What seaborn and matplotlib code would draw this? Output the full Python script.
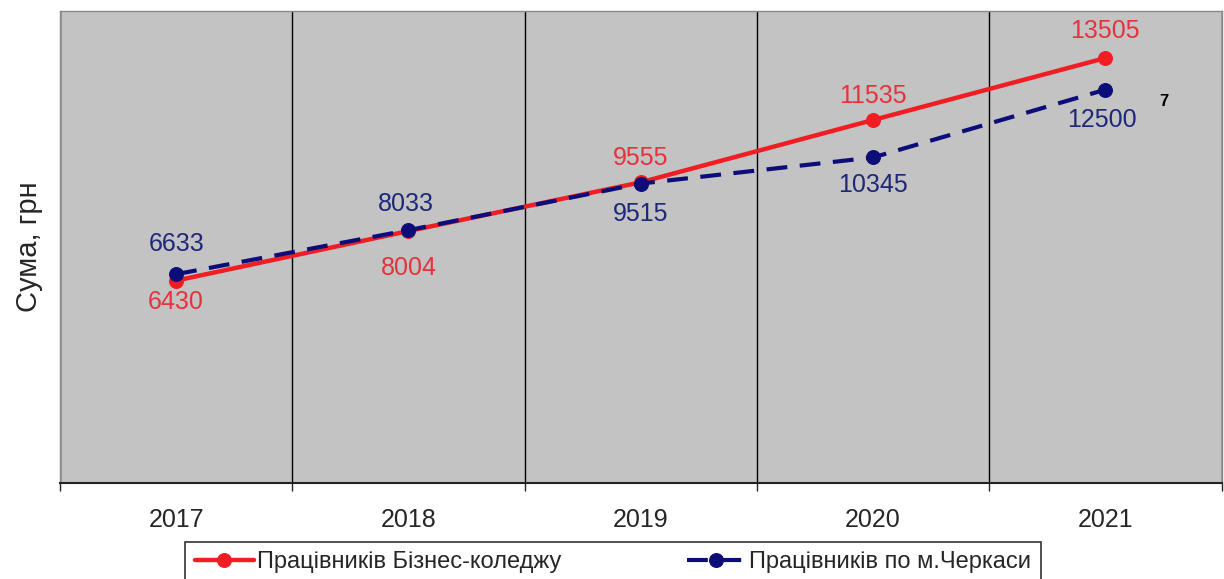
import matplotlib
matplotlib.use('Agg')
from matplotlib import pyplot as plt
from matplotlib.ticker import FixedLocator
import seaborn as sns
import pandas as pd

years = ['2017', '2018', '2019', '2020', '2021']
college = [6430, 8004, 9555, 11535, 13505]
cherkasy = [6633, 8033, 9515, 10345, 12500]
college_name = 'Працівників Бізнес-коледжу'
cherkasy_name = 'Працівників по м.Черкаси'

RED = '#f01e23'
BLUE = '#0d0d7a'
RED_TXT = '#e6323c'
BLUE_TXT = '#1e2878'

sns.set_style('white')
plt.rcParams['font.family'] = ['Liberation Sans', 'DejaVu Sans']

df = pd.DataFrame({'year': years, 'college': college, 'cherkasy': cherkasy})

fig = plt.figure(figsize=(12.24, 5.79), dpi=100)
ax = fig.add_axes([0.049, 0.166, 0.949, 0.815])
ax.set_facecolor('#c3c3c3')

sns.lineplot(data=df, x='year', y='college', ax=ax, color=RED, lw=3.2,
             marker='o', markersize=10, markeredgecolor=RED, label=college_name,
             zorder=3)
sns.lineplot(data=df, x='year', y='cherkasy', ax=ax, color=BLUE, lw=3.0,
             marker='o', markersize=10, markeredgecolor=BLUE, label=cherkasy_name,
             zorder=4)
ax.lines[1].set_dashes([5, 3])

ax.set_xlim(-0.5, len(years) - 0.5)
ax.set_ylim(0, 15000)
ax.set_yticks([])

# labels at centres, ticks and grid at category boundaries
ax.set_xticks(range(len(years)))
ax.set_xticklabels(years, fontsize=18)
ax.tick_params(axis='x', which='major', length=0, pad=18)
ax.xaxis.set_minor_locator(FixedLocator([i - 0.5 for i in range(len(years) + 1)]))
ax.tick_params(axis='x', which='minor', length=6, width=1, color='#222222',
               direction='out', bottom=True)
ax.grid(which='minor', axis='x', color='black', lw=1)
ax.set_axisbelow(True)

for side in ['top', 'left', 'right']:
    ax.spines[side].set_color('#888888')
    ax.spines[side].set_linewidth(1)
ax.spines['bottom'].set_color('#222222')
ax.spines['bottom'].set_linewidth(1.5)

ax.set_xlabel('')
ax.set_ylabel('Сума, грн', fontsize=21, labelpad=12)

# value labels (offset in pixels)
red_off = [(0, -21), (0, -37), (0, 24), (0, 24), (0, 27)]
blue_off = [(0, 30), (-3, 26), (0, -30), (0, -28), (-3, -30)]
for i, (v, off) in enumerate(zip(college, red_off)):
    ax.annotate(str(v), (i, v), xytext=off, textcoords='offset pixels',
                ha='center', va='center', fontsize=18, color=RED_TXT, zorder=6)
for i, (v, off) in enumerate(zip(cherkasy, blue_off)):
    ax.annotate(str(v), (i, v), xytext=off, textcoords='offset pixels',
                ha='center', va='center', fontsize=18, color=BLUE_TXT, zorder=6)
ax.annotate('7', (4, cherkasy[4]), xytext=(58, -12), textcoords='offset pixels',
            ha='center', va='center', fontsize=12, fontweight='bold', color='black')

leg = ax.legend(loc='upper center', bbox_to_anchor=(0.476, -0.125), ncol=2,
                prop={'size': 17}, frameon=True, fancybox=False, handlelength=2.5,
                columnspacing=5.3, borderpad=0.4, handletextpad=0.15,
                borderaxespad=0)
leg.get_frame().set_edgecolor('black')
leg.get_frame().set_linewidth(1.2)

plt.savefig('out.png', dpi=100)
